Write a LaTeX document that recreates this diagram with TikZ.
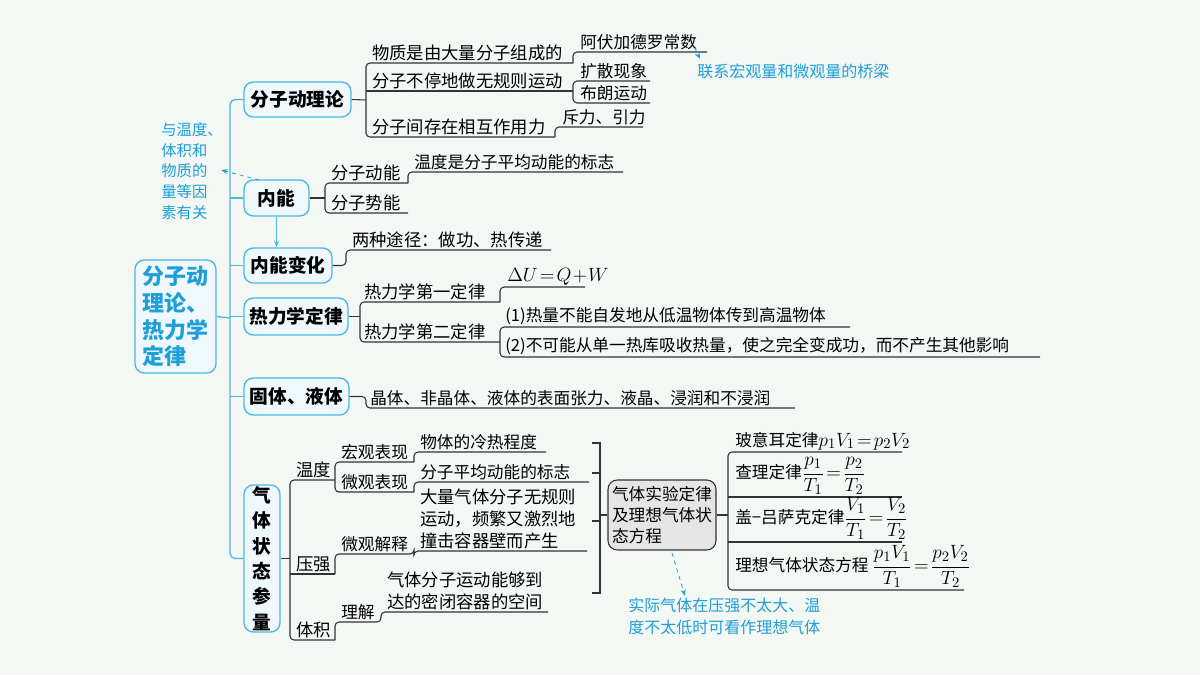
\documentclass[tikz,border=0pt]{standalone}
\usepackage{amsmath}
\usepackage{fontspec}
\setmainfont{Noto Sans CJK SC}
\usetikzlibrary{arrows.meta}
\definecolor{tblue}{HTML}{1E9FD8}
\definecolor{bbord}{HTML}{4DB8E0}
\definecolor{bfill}{HTML}{EEF8FD}
\definecolor{bg}{HTML}{F3F8F4}
\newcommand{\eqmath}[1]{{\fontsize{15}{18}\selectfont$#1$}}
\tikzset{
  ln/.style={draw=black!80,line width=0.8pt,rounded corners=3pt},
  sl/.style={draw=black!80,line width=0.8pt},
  sp/.style={draw=bbord,line width=1pt,rounded corners=4pt},
  bx/.style={draw=bbord,fill=bfill,line width=1pt,rounded corners=7pt,inner sep=0pt,font=\fontsize{14}{16}\selectfont\bfseries},
  t/.style={anchor=south west,inner sep=1.5pt,font=\fontsize{13}{16}\selectfont},
  ts/.style={anchor=south west,inner sep=1.5pt,font=\fontsize{12.5}{16}\selectfont},
  ml/.style={anchor=south west,inner sep=1.5pt,align=left,font=\fontsize{13}{16.5}\selectfont},
  note/.style={text=tblue,font=\fontsize{11.5}{15.5}\selectfont,align=left,inner sep=0pt},
  na/.style={draw=tblue,dashed,line width=0.6pt,-{Stealth[length=5pt]}}
}
\begin{document}
\begin{tikzpicture}[x=0.75pt,y=-0.75pt]
\useasboundingbox (0,0) rectangle (1200,675);
\fill[bg] (0,0) rectangle (1200,675);
% main box
\node[bx,minimum width=60.75pt,minimum height=84.75pt,text=tblue,align=left,font=\fontsize{16.5}{20}\selectfont\bfseries] (main) at (175.5,316.5) {分子动\\理论、\\热力学\\定律};
\node[bx,minimum width=80.25pt,minimum height=26.25pt] (b1) at (297.5,99.5) {分子动理论};
\node[bx,minimum width=48.75pt,minimum height=27pt] (b2) at (276.5,198) {内能};
\node[bx,minimum width=66pt,minimum height=26.25pt] (b3) at (288,265.5) {内能变化};
\node[bx,minimum width=78pt,minimum height=27.75pt] (b4) at (296,316.5) {热力学定律};
\node[bx,minimum width=78.75pt,minimum height=27.75pt] (b5) at (296.5,396.5) {固体、液体};
\node[bx,minimum width=27pt,minimum height=110.25pt,align=center,font=\fontsize{14}{19}\selectfont\bfseries] (b6) at (262,558.5) {气\\体\\状\\态\\参\\量};
% spine
\draw[sp] (b1.west) -| (230,318) |- (b6.west);
\draw[sp] (main.east) -- (230,318);
\draw[sp] (230,198) -- (b2.west);
\draw[sp] (230,265.5) -- (b3.west);
\draw[sp] (230,316.5) -- (b4.west);
\draw[sp] (230,396.5) -- (b5.west);
\draw[draw=bbord,line width=0.8pt,-{Stealth[length=5pt]}] (b2.south) -- (b2.south |- b3.north);
% note left
\node[note] (n1) at (192,171) {与温度、\\体积和\\物质的\\量等因\\素有关};
\draw[na] (259,180) -- (221,170);
% branch 1
\draw[ln] (b1.east) -- (366,100);
\draw[ln] (573,63) -- (366,63) -- (366,137) -- (555,137);
\draw[ln] (366,91) -- (573,91);
\draw[ln] (573,63) |- (707,52);
\draw[ln] (650,81) -- (573,81) -- (573,103) -- (650,103);
\draw[ln] (555,137) |- (643,127);
\node[t] (a1) at (370,63) {物质是由大量分子组成的};
\node[ts] (a2) at (578,52) {阿伏加德罗常数};
\node[t] (a3) at (370,91) {分子不停地做无规则运动};
\node[ts] (a4) at (578,81) {扩散现象};
\node[ts] (a5) at (578,103) {布朗运动};
\node[t] (a6) at (370,137) {分子间存在相互作用力};
\node[ts] (a7) at (560,127) {斥力、引力};
\draw[na] (695,48) -- (700,59);
\node[note,anchor=west,font=\fontsize{12}{15}\selectfont] (n2) at (697,71) {联系宏观量和微观量的桥梁};
% branch 2
\draw[ln] (b2.east) -- (325,198);
\draw[ln] (408,183) -- (325,183) -- (325,213) -- (408,213);
\draw[ln] (408,183) |- (623,172);
\node[t] (c1) at (329,183) {分子动能};
\node[ts] (c2) at (412,172) {温度是分子平均动能的标志};
\node[t] (c3) at (329,213) {分子势能};
% branch 3
\draw[ln] (b3.east) -- (346,265.5) -- (346,250) -- (551,250);
\node[t] (d1) at (350,250) {两种途径：做功、热传递};
% branch 4
\draw[ln] (b4.east) -- (360,316.5);
\draw[ln] (500,302) -- (360,302) -- (360,342) -- (500,342);
\draw[ln] (500,302) |- (585,287);
\draw[ln] (850,327) -- (500,327) -- (500,357) -- (1040,357);
\node[t] (e1) at (362,302) {热力学第一定律};
\node[t] (e2) at (362,342) {热力学第二定律};
\node[t] (e3) at (505,287) {\eqmath{\Delta U\!=\!Q\!+\!W}};
\node[ts] (e4) at (503,327) {(1)热量不能自发地从低温物体传到高温物体};
\node[ts] (e5) at (503,357) {(2)不可能从单一热库吸收热量，使之完全变成功，而不产生其他影响};
% branch 5
\draw[ln] (b5.east) -- (366,396.5) -- (366,408) -- (795,408);
\node[ts] (f1) at (368,408) {晶体、非晶体、液体的表面张力、液晶、浸润和不浸润};
% branch 6
\draw[ln] (b6.east) -- (290,558.5);
\draw[ln] (335,480) -- (290,480) -- (290,640) -- (335,640);
\draw[ln] (290,574) -- (335,574);
\node[t] (g1) at (294,480) {温度};
\node[t] (g2) at (294,574) {压强};
\node[t] (g3) at (294,640) {体积};
\draw[ln] (414,462) -- (335,462) -- (335,492) -- (414,492);
\draw[ln] (414,462) |- (546,452);
\draw[ln] (414,492) |- (589,482);
\node[ts] (h1) at (339,462) {宏观表现};
\node[ts] (h2) at (339,492) {微观表现};
\node[ts] (h3) at (418,452) {物体的冷热程度};
\node[ts] (h4) at (418,482) {分子平均动能的标志};
\draw[ln] (335,574) |- (414,554) |- (587,551);
\node[ts] (h5) at (339,554) {微观解释};
\node[ml] (h6) at (418,551) {大量气体分子无规则\\运动，频繁又激烈地\\撞击容器壁而产生};
\draw[ln] (335,640) |- (381,622) |- (548,612);
\node[ts] (h7) at (339,622) {理解};
\node[ml] (h8) at (385,612) {气体分子运动能够到\\达的密闭容器的空间};
% gas laws
\node[draw=black!80,line width=0.8pt,fill=black!10,rounded corners=7pt,minimum width=81pt,minimum height=52.5pt,align=left,inner sep=2pt,font=\fontsize{12.5}{16}\selectfont] (gas) at (662,515) {气体实验定律\\及理想气体状\\态方程};
\draw[sl] (592,443) -- (600,443) -- (600,593) -- (592,593);
\draw[sl] (592,473) -- (600,473);
\draw[sl] (592,521) -- (600,521);
\draw[sl] (600,515) -- (gas.west);
\draw[ln] (gas.east) -- (728,515);
\draw[ln] (902,452) -- (728,452) -- (728,590) -- (964,590);
\draw[ln] (728,497) -- (902,497);
\draw[ln] (728,542) -- (902,542);
\node[ts] (k1) at (733,452) {玻意耳定律\eqmath{p_1V_1\!=\!p_2V_2}};
\node[ts] (k2) at (733,497) {查理定律\eqmath{\dfrac{p_1}{T_1}\!=\!\dfrac{p_2}{T_2}}};
\node[ts] (k3) at (733,542) {盖−吕萨克定律\eqmath{\dfrac{V_1}{T_1}\!=\!\dfrac{V_2}{T_2}}};
\node[ts] (k4) at (733,590) {理想气体状态方程 \eqmath{\dfrac{p_1V_1}{T_1}\!=\!\dfrac{p_2V_2}{T_2}}};
\draw[na] (672,553) -- (685,596);
\node[note,anchor=north west,font=\fontsize{12}{16}\selectfont] (n3) at (628,598) {实际气体在压强不太大、温\\度不太低时可看作理想气体};
\end{tikzpicture}
\end{document}
